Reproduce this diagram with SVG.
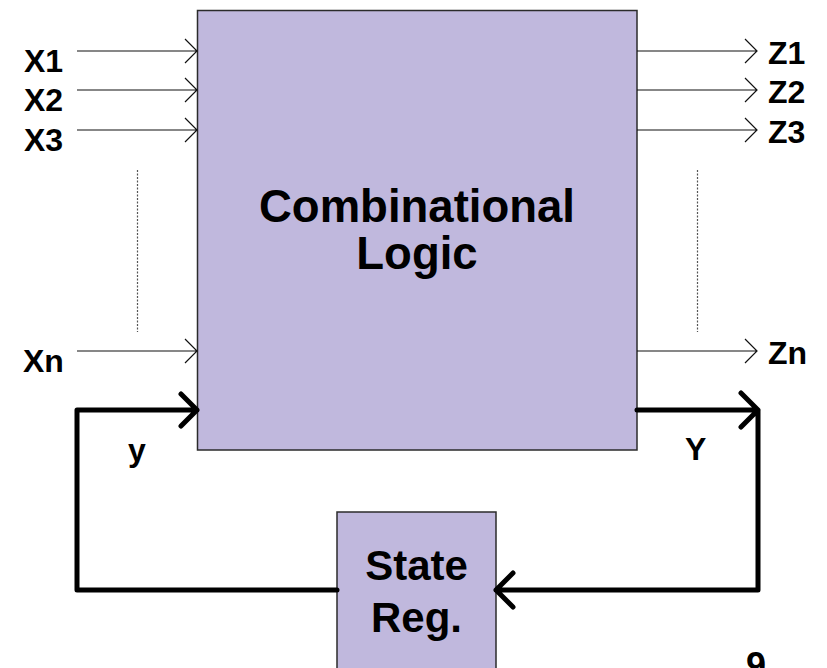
<svg xmlns="http://www.w3.org/2000/svg" width="827" height="668" viewBox="0 0 827 668">
  <style>
    .block { fill: #c0b8dd; stroke: #2b2b2b; stroke-width: 1.5; }
    .sig { stroke: #111; stroke-width: 1.2; fill: none; }
    .bus { stroke: #000; stroke-width: 5; fill: none; stroke-linecap: round; stroke-linejoin: round; }
    .dots { stroke: #555; stroke-width: 1.2; stroke-dasharray: 2 1.5; fill: none; }
    .lbl { font-family: "Liberation Sans", Arial, sans-serif; font-weight: bold; font-size: 32px; fill: #000; }
    .big { font-family: "Liberation Sans", Arial, sans-serif; font-weight: bold; font-size: 45.5px; fill: #000; text-anchor: middle; }
  </style>

  <g id="combinational-logic">
    <rect class="block" x="197.5" y="10.5" width="439.5" height="439.5"/>
    <text class="big" x="417" y="222">Combinational</text>
    <text class="big" x="417" y="269">Logic</text>
  </g>

  <g id="state-register">
    <rect class="block" x="337" y="512" width="159" height="170"/>
    <text class="big" x="416.5" y="580" style="font-size:42px">State</text>
    <text class="big" x="416.5" y="632" style="font-size:42px">Reg.</text>
  </g>

  <g id="connectors">
    <!-- primary inputs -->
    <path class="sig" d="M77 51H197 M185 39L197 51L185 63"/>
    <path class="sig" d="M77 90H197 M185 78L197 90L185 102"/>
    <path class="sig" d="M77 130H197 M185 118L197 130L185 142"/>
    <path class="sig" d="M77 351H197 M185 339L197 351L185 363"/>
    <!-- primary outputs -->
    <path class="sig" d="M637 51H757 M745 39L757 51L745 63"/>
    <path class="sig" d="M637 90H757 M745 78L757 90L745 102"/>
    <path class="sig" d="M637 130H757 M745 118L757 130L745 142"/>
    <path class="sig" d="M637 351H757 M745 339L757 351L745 363"/>
    <!-- elided signals -->
    <path class="dots" d="M137.5 170V332"/>
    <path class="dots" d="M697.5 170V332"/>
    <!-- feedback: next state Y into register, present state y back to logic -->
    <path class="bus" d="M637 410H758V590H496 M513 573L496 590L513 607 M741 393L758 410L741 427"/>
    <path class="bus" d="M337 590H77V410H197 M181 394L197 410L181 426"/>
  </g>

  <g id="labels">
    <text class="lbl" x="24" y="72">X1</text>
    <text class="lbl" x="24" y="111">X2</text>
    <text class="lbl" x="24" y="151">X3</text>
    <text class="lbl" x="23" y="372">Xn</text>
    <text class="lbl" x="768" y="64">Z1</text>
    <text class="lbl" x="768" y="103">Z2</text>
    <text class="lbl" x="768" y="143">Z3</text>
    <text class="lbl" x="768" y="364">Zn</text>
    <text class="lbl" x="128" y="461">y</text>
    <text class="lbl" x="685" y="460">Y</text>
    <text class="lbl" x="746" y="678" style="font-size:36px">9</text>
  </g>
</svg>
